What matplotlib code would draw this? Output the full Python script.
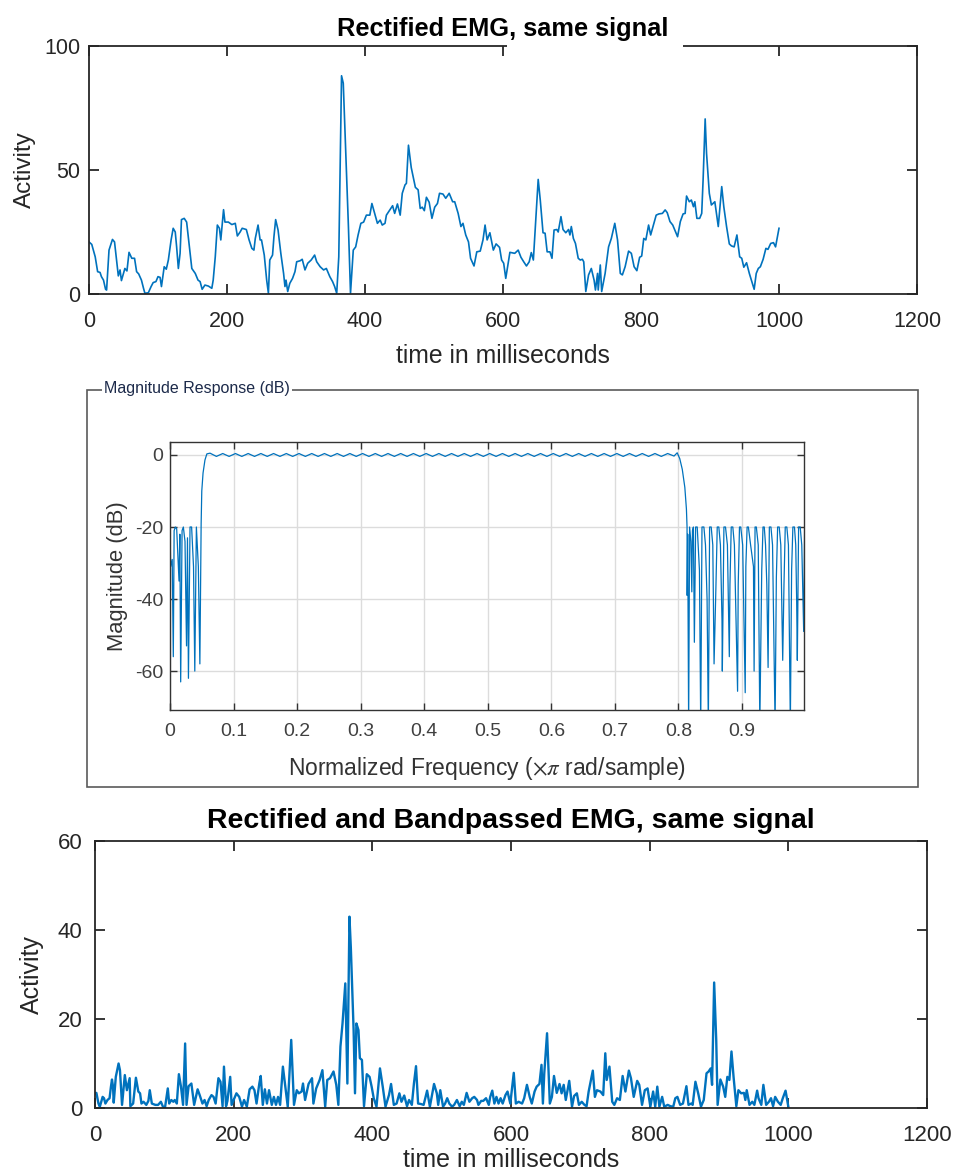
import numpy as np
import matplotlib
matplotlib.use("Agg")
import matplotlib.pyplot as plt
from matplotlib.patches import Rectangle
from matplotlib.ticker import FuncFormatter

plt.rcParams['font.family'] = ['Liberation Sans', 'DejaVu Sans']
plt.rcParams['mathtext.fontset'] = 'stix'
plt.rcParams['axes.unicode_minus'] = False

BLUE = '#0072BD'
DARK = '#262626'

# rectified EMG (top panel)
t_rect = [0, 4, 9, 12.5, 16, 18, 21, 24, 25.5, 29, 34, 37, 40, 42.5, 45, 47, 52, 55, 58, 62,
          66, 69, 72, 76, 79, 81, 86, 90, 93, 97, 100, 103, 105, 109, 112, 115, 119, 122, 125, 127,
          129.5, 132, 134, 138, 141.5, 145, 149, 154, 158, 161, 164, 168, 173, 178, 180, 183, 186, 189, 191, 195,
          197, 202, 207, 212, 215, 219, 222, 228, 232, 236, 239, 241, 245, 248, 250, 254, 257.5, 260, 262, 266,
          268, 270.5, 274, 278, 282, 284, 285.5, 288, 291, 295, 298.5, 301, 306, 309, 313, 317, 322, 327, 330, 335,
          340, 344, 349, 353, 356, 359, 362, 366, 368.5, 372, 376, 379, 383, 386.5, 390, 394, 398, 402, 407, 410,
          414, 418, 422, 425, 429, 431, 436, 440, 443, 447, 451, 454, 458, 460, 463, 467, 470, 473, 477, 480,
          483, 486, 489, 493, 497, 501, 505, 508, 513, 517, 522, 527, 530, 535, 539, 542, 546, 550, 553, 558,
          562, 567, 571, 574, 577, 581, 586, 590, 595, 598, 601, 604, 610, 617, 622, 626, 630, 634, 638, 641,
          644, 648, 651, 654, 658, 661, 664, 668, 671, 674, 678, 680, 684, 687, 691, 695, 697, 699, 702, 705,
          709, 712, 715, 717, 720, 724, 728, 732, 734, 737, 738, 741, 743, 748, 753, 757, 762, 766, 770, 773,
          777, 782, 786, 790, 794, 798, 801, 804, 807, 811, 814, 818, 822, 826, 831, 835, 838, 842, 846, 849,
          853, 857, 861, 864, 866, 870, 873, 876, 878, 881, 885, 888, 890, 893, 895, 899, 902, 907, 912, 917,
          920, 924, 928, 931, 935, 939, 943, 946, 949, 953, 957, 960, 964, 967, 970, 973, 977, 981, 984, 988,
          992, 995, 1000]
v_rect = [21, 20, 15, 9, 8.7, 7, 5.6, 1.9, 1.6, 17.7, 22, 21, 13.7, 7.3, 9.7, 5.4, 10.3, 9.3, 16.8, 14.4,
          14.4, 9, 8.1, 5.6, 2.3, 0.3, 0.5, 3, 4.6, 5, 7, 6.7, 3, 11, 10, 13.7, 21.8, 26.5, 25, 19,
          10.3, 16.4, 30, 30.5, 29, 20.4, 10.3, 8.3, 5.6, 5, 1.9, 3.6, 3.2, 2.3, 5.6, 15, 27.8, 26.5, 21.8, 34,
          29, 29, 28, 28.5, 23.4, 25, 26.5, 26, 21.8, 18.4, 17.7, 22.4, 27.8, 21.8, 21.8, 15.7, 5.6, 0.3, 13.7, 15.7,
          23, 30, 25.8, 16.4, 8.3, 3, 5.6, 1, 4.3, 6.3, 9, 13, 13.4, 14, 9.7, 12.4, 13.7, 15.7, 13, 11,
          9.7, 10.3, 7, 5, 3, 0.3, 15, 88, 85, 58, 27, 0.3, 17.7, 19, 23.8, 28.5, 29, 31.8, 31.8, 36.5,
          32.5, 28.5, 29.8, 27.8, 28.5, 31.8, 33.9, 35.6, 32.5, 36.3, 31.8, 40.6, 44, 44.6, 60, 51, 47, 43, 42, 34.5,
          35, 33.6, 39, 37, 30.5, 35, 36.5, 40.6, 40.3, 38.6, 40.6, 37.2, 37.2, 32.5, 27.2, 28.5, 23.8, 21, 14.4, 11.3,
          17, 17.3, 21.8, 27.8, 21.8, 24.7, 17.7, 20.2, 18.8, 13.7, 12.4, 6.3, 16.8, 16.4, 17.7, 14.8, 13, 11.3, 13, 16.7,
          13.7, 32.5, 46.2, 37.9, 24.7, 24.5, 17, 17, 14.4, 25.8, 26, 25, 31.2, 26, 24.7, 26, 23.8, 27.2, 22.4, 20.4,
          14.4, 13.7, 14, 13, 1, 7.7, 10.3, 5.6, 1.6, 8.3, 1.6, 11.7, 1, 8.3, 19, 22.4, 28.5, 21.8, 8.3, 7.7,
          11, 17.3, 16.4, 11, 9.4, 14.8, 15.3, 22.4, 21.8, 27.8, 23.8, 27.8, 31.8, 32.3, 32.5, 33.9, 32.8, 29.2, 27.8, 25.8,
          23.1, 29.2, 32.3, 32.5, 39.5, 37.2, 37.9, 35.2, 37.2, 30.5, 30.5, 32.5, 46, 70.6, 56.7, 40.6, 35.9, 37.2, 27.2, 43.3,
          35.2, 27.2, 20.2, 19.4, 19, 23.8, 15, 14.4, 10.8, 12.6, 8.3, 5.6, 1.9, 8.3, 10.3, 11, 14, 18.4, 18, 20.4,
          20.7, 19, 26.5]

# rectified and bandpassed EMG (bottom panel)
t_band = [0, 2, 5, 7, 11, 13, 15, 18, 21, 23, 24.5, 26, 27, 30, 34, 36, 39, 43, 46, 50,
          51, 55, 59, 62.5, 65, 67, 70, 74, 77, 79, 82, 87, 91, 95, 98, 101, 105, 107, 110, 113,
          115, 118, 121, 124, 127, 130, 132, 135, 139, 143, 148, 151, 155, 158, 161, 164, 168, 171, 174, 178,
          181, 184, 186, 189, 191, 195, 197, 200, 204, 208, 212, 215, 219, 223, 227, 230, 233, 237, 239, 242,
          245, 248, 251, 255, 258, 261, 264, 267, 271, 274, 278, 283, 287, 291, 294, 298, 300, 303, 308, 313,
          315, 319, 324, 328, 332, 335, 339, 344, 348, 351, 354, 357, 361, 364, 367, 369, 373, 375, 377, 380,
          382, 385, 388, 392, 396, 399, 402, 406, 411, 415, 419, 424, 427, 431, 435, 439, 442, 446, 450, 453,
          457, 460, 463, 466, 470, 474, 479, 483, 489, 493, 495, 498, 502, 505, 508, 511, 515, 518, 522, 526,
          529, 532, 536, 540, 544, 547, 551, 553, 557, 560, 564, 568, 570, 573, 576, 579, 582, 585, 588, 592,
          595, 599, 604, 607, 611, 616, 619, 623, 627, 630, 634, 637, 641, 644, 646, 648, 652, 656, 659, 662,
          666, 670, 673, 676, 679, 684, 688, 691, 695, 698, 702, 706, 709, 712, 718, 721, 724, 729, 733, 736,
          738, 742, 746, 749, 753, 757, 761, 765, 770, 773, 777, 782, 785, 789, 793, 797, 801, 805, 808, 811,
          814, 818, 821, 826, 830, 834, 837, 840, 844, 848, 853, 856, 860, 862, 866, 870, 874, 878, 882, 885,
          888, 890, 893, 896, 898, 902, 906, 909, 912, 915, 918, 921, 925, 928, 932, 936, 938, 940, 944, 948,
          951, 955, 957, 961, 964, 968, 972, 975, 978, 981, 985, 989, 992, 996, 1000]
v_band = [3.3, 3.4, 1, 0.3, 2.5, 2.2, 1, 1.8, 2.2, 4.8, 6.4, 4.8, 1.2, 7, 10, 8.5, 0.7, 7.4, 4, 6.7,
          0.4, 1, 6.8, 3.7, 3.3, 1, 1.4, 0.7, 1.6, 4, 1, 0.7, 0.7, 1.4, 0.3, 0.15, 4.4, 1, 1.8, 1.4,
          1.8, 1, 7.6, 4.8, 0.7, 14.5, 0.7, 4.9, 5.5, 0.7, 4.2, 2.9, 1, 1.8, 0.4, 1.8, 2.9, 2.5, 1, 6.7,
          5.9, 0.4, 9.3, 0.4, 1.6, 7, 0.7, 1.8, 3.3, 2.5, 0.3, 1.8, 0.3, 4.2, 4.8, 4, 1, 5.5, 7.2, 0.7,
          4.2, 1, 4, 0.7, 2.5, 0.7, 2.5, 0.7, 9.3, 5.5, 0.3, 15.3, 0.7, 4, 3.3, 3.7, 5.5, 1.8, 5.4, 6.7,
          1, 4.4, 6.3, 8.5, 0.3, 6.3, 6.7, 8.2, 5.2, 0.7, 13.8, 19, 28, 5.5, 43, 36, 17.5, 3.3, 19, 17.5,
          11.2, 10.8, 0.4, 7.6, 7, 4.8, 2.2, 0.3, 8.9, 4.8, 0.3, 2.9, 5.4, 0.7, 1, 3.3, 1.4, 2.8, 0.4, 1.8,
          0.7, 5.5, 9.4, 1, 0.9, 0.7, 3.9, 0.3, 5.4, 3.3, 0.7, 4, 0.3, 1, 2.2, 1, 0.3, 0.7, 1.8, 0.4,
          1.4, 0.7, 3.4, 1.4, 2.2, 2.5, 1.8, 0.7, 1.6, 1.6, 2.2, 0.7, 2.5, 3.9, 1, 2.5, 1, 2.2, 1, 2.9,
          3.7, 1, 7.9, 1, 1.4, 1, 2.2, 5.2, 2.5, 1, 3.7, 4.8, 5.4, 9.7, 1, 7.8, 16.8, 1, 2.5, 7.2,
          3.4, 5.4, 3.3, 5.2, 1.8, 6.1, 0.3, 2.7, 3.3, 0.7, 1.4, 0.7, 0.4, 3.7, 8.4, 2.5, 4, 3.7, 2.9, 12.3,
          6.3, 9.3, 1.4, 0.7, 2.2, 1.8, 7.2, 3.7, 8.4, 6.7, 2.5, 6.1, 5.2, 0.7, 4, 4.4, 0.3, 3.7, 0.3, 4.8,
          0.3, 2.5, 0.3, 0.7, 0.4, 0.3, 2.2, 2.5, 0.7, 1, 4.9, 0.7, 1, 0.7, 5.9, 3.3, 0.3, 1.8, 7.8, 8.2,
          8.9, 5.2, 28.2, 15.3, 0.7, 6.4, 4.8, 2.5, 7, 6.3, 12.7, 7, 0.4, 4, 3.3, 3.4, 1.8, 4, 0.7, 1.4,
          0.7, 3.9, 2.2, 0.7, 5.2, 0.7, 1.4, 2.2, 0.4, 2.5, 1.4, 0.7, 2.2, 3.9, 0.3]

# bandpass magnitude response (middle panel), dB vs normalized frequency
f_low = [0.0, 0.001, 0.0035, 0.0052, 0.0065, 0.0085, 0.0105, 0.0142, 0.0155, 0.0168,
         0.019, 0.021, 0.0236, 0.026, 0.0275, 0.029, 0.0315, 0.034, 0.037, 0.039,
         0.0415, 0.0446, 0.047, 0.049, 0.050, 0.052, 0.055, 0.058]
db_low = [-20, -31, -29, -56, -21, -20, -20.5, -35, -22, -63,
          -21, -20, -24, -53, -23, -62, -20, -20, -31, -60,
          -20, -31, -58, -19, -10, -5, -1.4, 0.3]

f_pass = [0.063, 0.073, 0.083, 0.093, 0.103, 0.113, 0.123, 0.133, 0.143, 0.153,
          0.163, 0.173, 0.183, 0.193, 0.203, 0.213, 0.223, 0.233, 0.243, 0.253,
          0.263, 0.273, 0.283, 0.293, 0.303, 0.313, 0.323, 0.333, 0.343, 0.353,
          0.363, 0.373, 0.383, 0.393, 0.403, 0.413, 0.423, 0.433, 0.443, 0.453,
          0.463, 0.473, 0.483, 0.493, 0.503, 0.513, 0.523, 0.533, 0.543, 0.553,
          0.563, 0.573, 0.583, 0.593, 0.603, 0.613, 0.623, 0.633, 0.643, 0.653,
          0.663, 0.673, 0.683, 0.693, 0.703, 0.713, 0.723, 0.733, 0.743, 0.753,
          0.763, 0.773, 0.783, 0.793]
db_pass = [0.5, -0.4, 0.4, -0.4, 0.4, -0.4, 0.4, -0.4, 0.4, -0.4,
           0.4, -0.4, 0.4, -0.4, 0.4, -0.4, 0.4, -0.4, 0.4, -0.4,
           0.4, -0.4, 0.4, -0.4, 0.4, -0.4, 0.4, -0.4, 0.4, -0.4,
           0.4, -0.4, 0.4, -0.4, 0.4, -0.4, 0.4, -0.4, 0.4, -0.4,
           0.4, -0.4, 0.4, -0.4, 0.4, -0.4, 0.4, -0.4, 0.4, -0.4,
           0.4, -0.4, 0.4, -0.4, 0.4, -0.4, 0.4, -0.4, 0.4, -0.4,
           0.4, -0.4, 0.4, -0.4, 0.4, -0.4, 0.4, -0.4, 0.4, -0.4,
           0.4, -0.4, 0.4, -0.3]

f_high = [0.798, 0.802, 0.806, 0.810, 0.8125, 0.8135, 0.8137, 0.8145, 0.816, 0.8175,
          0.8195, 0.821, 0.822, 0.8235, 0.825, 0.827, 0.8295, 0.831, 0.833, 0.835,
          0.837, 0.840, 0.8425, 0.845, 0.847, 0.849, 0.8515, 0.854, 0.856, 0.859,
          0.861, 0.8635, 0.866, 0.8685, 0.869, 0.8715, 0.874, 0.877, 0.880, 0.881,
          0.883, 0.8855, 0.888, 0.893, 0.894, 0.896, 0.898, 0.901, 0.905, 0.906,
          0.908, 0.910, 0.9135, 0.918, 0.919, 0.9205, 0.9225, 0.9255, 0.928, 0.931,
          0.933, 0.935, 0.937, 0.939, 0.941, 0.943, 0.9455, 0.948, 0.952, 0.954,
          0.956, 0.9585, 0.961, 0.964, 0.966, 0.968, 0.9705, 0.973, 0.976, 0.978,
          0.980, 0.9825, 0.9845, 0.986, 0.987, 0.989, 0.9915, 0.994, 0.997, 0.9985]
db_high = [0.6, -1, -4, -9, -15, -20, -39, -22, -75, -20,
           -24, -38, -21, -20, -52, -20, -20, -25, -32, -75,
           -20, -20, -25, -40, -75, -20, -20, -25, -58, -36,
           -20, -20, -25, -46, -60, -20, -20, -25, -56, -36,
           -20, -20, -25, -65.6, -36, -20, -20, -25, -66, -31,
           -20, -20, -25, -31, -60, -20, -20, -25, -75, -32,
           -20, -20, -25, -36, -59, -20, -20, -25, -75, -34,
           -20, -20, -25, -57, -36, -20, -20, -25, -75, -32,
           -20, -20, -25, -41, -57, -20, -20, -25, -49, -20]

freq = np.concatenate([f_low, f_pass, f_high])
mag_db = np.concatenate([db_low, db_pass, db_high])

fig = plt.figure(figsize=(9.61, 11.72), dpi=100)
W, H = 961, 1172


def box(l, t, r, b):
    return [l / W, 1 - b / H, (r - l) / W, (b - t) / H]


def style_emg(ax, size, xpad, ypad):
    for s in ax.spines.values():
        s.set_color(DARK)
        s.set_linewidth(1.3)
    ax.tick_params(direction='in', length=7, width=1.3, colors=DARK,
                   labelsize=size, top=True, right=True)
    ax.tick_params(axis='x', pad=xpad)
    ax.tick_params(axis='y', pad=ypad)


# top panel
ax1 = fig.add_axes(box(89, 46, 917, 294))
ax1.plot(t_rect, v_rect, color=BLUE, lw=1.2)
ax1.set_xlim(0, 1200)
ax1.set_ylim(0, 100)
ax1.set_xticks(range(0, 1201, 200))
ax1.set_yticks([0, 50, 100])
style_emg(ax1, 15.5, 12, 6)
ax1.set_xlabel('time in milliseconds', fontsize=17.8, color=DARK, labelpad=9)
ax1.set_ylabel('Activity', fontsize=17.5, color=DARK, labelpad=6)
ax1.set_title('Rectified EMG, same signal', fontsize=18.3, fontweight='bold', pad=7)
# the title box hides part of the top edge
ax1.add_patch(Rectangle((0.505, 0.955), 0.212, 0.06, transform=ax1.transAxes,
                        facecolor='white', edgecolor='none', clip_on=False, zorder=5))

# middle panel: framed magnitude response
fig.add_artist(Rectangle((87 / W, 1 - 787 / H), (918 - 87) / W, (787 - 390) / H,
                         transform=fig.transFigure, fill=False, edgecolor='#5a5a5a', lw=1.2))
fig.text(104 / W, 1 - 388 / H, 'Magnitude Response (dB)', fontsize=11.5, color='#1c2a4a',
         va='center', ha='left',
         bbox=dict(facecolor='white', edgecolor='none', pad=1.5))

ax2 = fig.add_axes(box(170, 442, 804, 710))
ax2.plot(freq, mag_db, color=BLUE, lw=0.9)
ax2.set_xlim(0, 0.9975)
ax2.set_ylim(-70.8, 3.6)
ax2.set_xticks(np.arange(0, 0.95, 0.1))
ax2.xaxis.set_major_formatter(FuncFormatter(lambda x, p: '0' if abs(x) < 1e-9 else f'{x:.1f}'))
ax2.set_yticks([-60, -40, -20, 0])
ax2.grid(True, color='#dcdcdc', lw=1)
ax2.set_axisbelow(True)
for s in ax2.spines.values():
    s.set_color('#333333')
    s.set_linewidth(1.0)
ax2.tick_params(direction='in', length=5, width=1, colors='#333333', labelcolor='#404040',
                labelsize=14, top=True, right=True)
ax2.tick_params(axis='x', pad=9)
ax2.tick_params(axis='y', pad=5)
ax2.set_xlabel(r'Normalized Frequency ($\times\pi$ rad/sample)', fontsize=16.5, color='#333333', labelpad=11)
ax2.set_ylabel('Magnitude (dB)', fontsize=15.8, color='#333333', labelpad=5)

# bottom panel
ax3 = fig.add_axes(box(95, 841, 927, 1108))
ax3.plot(t_band, v_band, color=BLUE, lw=1.7)
ax3.set_xlim(0, 1200)
ax3.set_ylim(0, 60)
ax3.set_xticks(range(0, 1201, 200))
ax3.set_yticks([0, 20, 40, 60])
style_emg(ax3, 16, 12, 9)
ax3.set_xlabel('time in milliseconds', fontsize=18, color=DARK, labelpad=2)
ax3.set_ylabel('Activity', fontsize=18, color=DARK, labelpad=10)
ax3.set_title('Rectified and Bandpassed EMG, same signal', fontsize=20.5, fontweight='bold', pad=9)

fig.savefig('out.png', dpi=100)
